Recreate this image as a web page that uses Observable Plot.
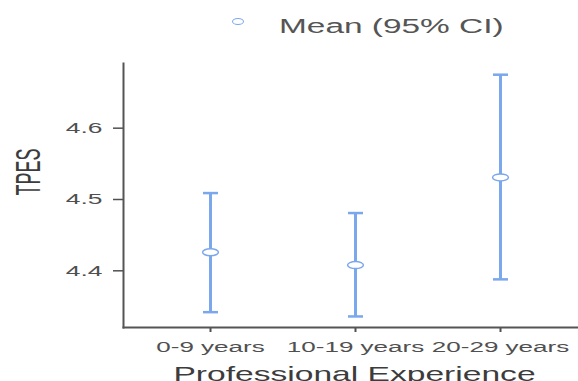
<!DOCTYPE html>
<html>
<head>
<meta charset="utf-8">
<script src="https://cdn.jsdelivr.net/npm/d3@7"></script>
<script src="https://cdn.jsdelivr.net/npm/@observablehq/plot@0.6"></script>
<style>
  html, body { margin: 0; padding: 0; background: #fff; }
  #wrap { width: 578px; height: 381px; position: relative; overflow: hidden; font-family: "Liberation Sans", Arial, sans-serif; }
  #legend { position: relative; width: 578px; height: 45px; }
  #legend .swatch { position: absolute; left: 231.5px; top: 17.5px; width: 10px; height: 5px; border: 1.5px solid #7ba7ec; border-radius: 50%; background: #fff; }
  #legend .label { position: absolute; left: 279px; top: 15.7px; font-size: 20px; line-height: 20px; color: #555; white-space: nowrap; transform: scaleX(1.67); transform-origin: 0 0; }
  svg { display: block; }
</style>
</head>
<body>
<div id="wrap">
  <div id="legend"><span class="swatch"></span><span class="label">Mean (95% CI)</span></div>
</div>
<script>
const groups = ["0-9 years", "10-19 years", "20-29 years"];
const means = [4.426, 4.408, 4.531];
const lower = [4.342, 4.336, 4.388];
const upper = [4.509, 4.481, 4.675];
const yTicks = [4.4, 4.5, 4.6];
const xLabel = "Professional Experience";
const yLabel = "TPES";

const data = groups.map((g, i) => ({group: g, mean: means[i], lo: lower[i], hi: upper[i]}));
const ends = data.flatMap(d => [{group: d.group, v: d.lo}, {group: d.group, v: d.hi}]);

const blue = "#7ba7ec";

const k = 0.5523;
const ellipse = {
  draw(ctx, size) {
    const r = Math.sqrt(size / Math.PI);
    const rx = r * 1.58, ry = r * 0.7;
    ctx.moveTo(rx, 0);
    ctx.bezierCurveTo(rx, ry * k, rx * k, ry, 0, ry);
    ctx.bezierCurveTo(-rx * k, ry, -rx, ry * k, -rx, 0);
    ctx.bezierCurveTo(-rx, -ry * k, -rx * k, -ry, 0, -ry);
    ctx.bezierCurveTo(rx * k, -ry, rx, -ry * k, rx, 0);
    ctx.closePath();
  }
};
const cap = {
  draw(ctx, size) {
    const r = Math.sqrt(size / Math.PI);
    ctx.moveTo(-r * 1.5, 0);
    ctx.lineTo(r * 1.5, 0);
  }
};

const svg = Plot.plot({
  width: 578,
  height: 336,
  marginTop: 18,
  marginBottom: 54,
  marginLeft: 123,
  marginRight: 0,
  style: {fontFamily: "Liberation Sans, Arial, sans-serif", color: "#505050", background: "#fff"},
  x: {type: "point", domain: groups, range: [209, 500], padding: 0},
  y: {domain: [4.3205, 4.6907]},
  marks: [
    Plot.axisY({ticks: yTicks, tickFormat: d => d.toFixed(1), tickSize: 10, tickPadding: 11, fontSize: 15, strokeWidth: 1.5, label: null}),
    Plot.axisX({tickSize: 5, tickPadding: 10, fontSize: 14, strokeWidth: 2, label: null}),
    Plot.frame({anchor: "left", stroke: "#555", strokeWidth: 2}),
    Plot.frame({anchor: "bottom", stroke: "#555", strokeWidth: 2}),
    Plot.text([yLabel], {text: d => d, frameAnchor: "left", rotate: -90, dx: -95, fontSize: 18, fill: "#3c3c3c"}),
    Plot.text([xLabel], {text: d => d, frameAnchor: "bottom", lineAnchor: "bottom", dy: 53, dx: 3.5, fontSize: 21, fill: "#3c3c3c"}),
    Plot.ruleX(data, {x: "group", y1: "lo", y2: "hi", stroke: blue, strokeWidth: 3}),
    Plot.dot(ends, {x: "group", y: "v", r: 5, symbol: cap, stroke: blue, strokeWidth: 2.5, fill: "none"}),
    Plot.dot(data, {x: "group", y: "mean", r: 5, symbol: ellipse, stroke: blue, strokeWidth: 1.5, fill: "#fff"})
  ]
});

svg.querySelectorAll("text").forEach(t => {
  const s = t.textContent;
  let sc = null;
  if (s === yLabel) sc = "scale(1,1.95)";
  else if (s === xLabel) sc = "scale(1.6,1)";
  else if (groups.includes(s)) sc = "scale(1.86,1)";
  else if (/^\d\.\d$/.test(s)) sc = "scale(1.76,1)";
  if (sc) {
    const tr = t.getAttribute("transform") || "";
    t.setAttribute("transform", (tr + " " + sc).trim());
  }
});

document.getElementById("wrap").appendChild(svg);
</script>
</body>
</html>
